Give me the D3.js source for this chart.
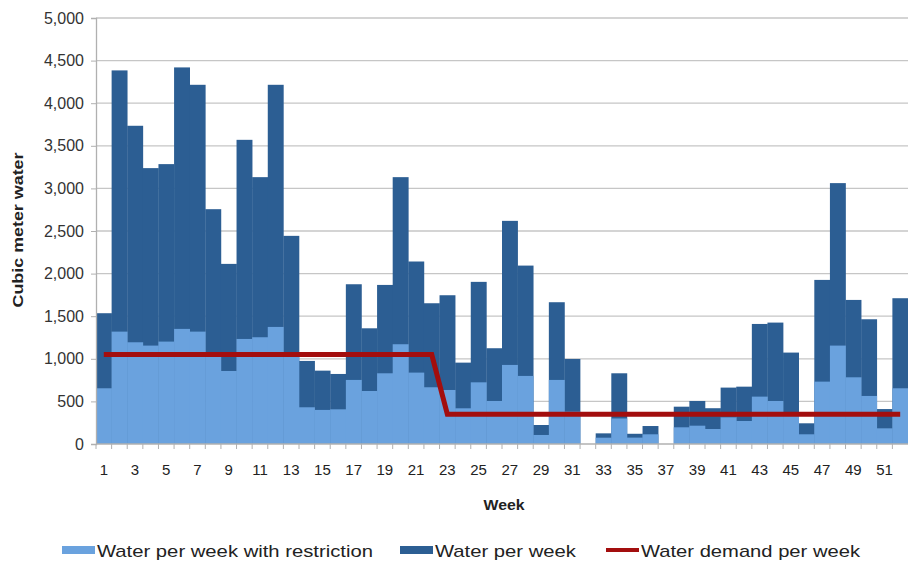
<!DOCTYPE html>
<html>
<head>
<meta charset="utf-8">
<script src="https://cdn.jsdelivr.net/npm/d3@7"></script>
<style>
  body { margin: 0; background: #fff; }
  svg { font-family: "Liberation Sans", Arial, sans-serif; }
</style>
</head>
<body>
<div id="chart-container"></div>
<script>
//Data

const weeks = d3.range(1, 53);

const waterTotal = [
  1535, 4385, 3735, 3238, 3285, 4420, 4216, 2756, 2114, 3570,
  3132, 4216, 2443, 975, 861, 822, 1875, 1358, 1867, 3132,
  2142, 1652, 1746, 955, 1903, 1124, 2619, 2094, 223, 1664,
  998, 0, 125, 830, 120, 211, 0, 438, 505, 420,
  662, 673, 1409, 1425, 1073, 243, 1926, 3062, 1691, 1464,
  410, 1711
];

const waterRestricted = [
  654, 1319, 1194, 1155, 1202, 1351, 1319, 1030, 857, 1233,
  1253, 1374, 1040, 431, 400, 407, 752, 622, 830, 1171,
  838, 666, 634, 419, 724, 505, 928, 799, 106, 752,
  380, 0, 74, 300, 75, 114, 0, 196, 215, 176,
  313, 270, 556, 505, 330, 114, 732, 1155, 783, 564,
  184, 654
];

const demand = weeks.map((w) => (w <= 22 ? 1050 : 350));

const yTicks = [0, 500, 1000, 1500, 2000, 2500, 3000, 3500, 4000, 4500, 5000];

const legendItems = [
  { label: "Water per week with restriction", color: "#6aa2de", type: "rect", x: 62, len: 276 },
  { label: "Water per week", color: "#2c5e93", type: "rect", x: 400, len: 141 },
  { label: "Water demand per week", color: "#a30e0e", type: "line", x: 606, len: 219 }
];

//Chart dimensions

const margin = { top: 18, right: 0, bottom: 118, left: 96 };
const width = 908 - margin.left - margin.right;
const height = 562 - margin.top - margin.bottom;

const xScale = d3.scaleBand().domain(weeks).range([0, width]).padding(0);
const yScale = d3.scaleLinear().domain([0, 5000]).range([height, 0]);

const root = d3.select("#chart-container")
  .append("svg")
  .attr("width", 908)
  .attr("height", 562);

const svg = root.append("g")
  .attr("transform", `translate(${margin.left},${margin.top})`);

//Horizontal gridlines

svg.selectAll(".yGrid")
  .data(yTicks.slice(1))
  .join("line")
  .attr("class", "yGrid")
  .attr("x1", 0)
  .attr("x2", width)
  .attr("y1", (d) => yScale(d))
  .attr("y2", (d) => yScale(d))
  .attr("stroke", "#c6c6c6")
  .attr("stroke-width", 1.3);

//Bars: total first, restricted on top

svg.selectAll(".barTotal")
  .data(weeks)
  .join("rect")
  .attr("class", "barTotal")
  .attr("x", (d) => xScale(d))
  .attr("width", xScale.bandwidth() + 0.3)
  .attr("y", (d, i) => yScale(waterTotal[i]))
  .attr("height", (d, i) => height - yScale(waterTotal[i]))
  .attr("fill", "#2c5e93");

svg.selectAll(".barRestr")
  .data(weeks)
  .join("rect")
  .attr("class", "barRestr")
  .attr("x", (d) => xScale(d))
  .attr("width", xScale.bandwidth() + 0.3)
  .attr("y", (d, i) => yScale(waterRestricted[i]))
  .attr("height", (d, i) => height - yScale(waterRestricted[i]))
  .attr("fill", "#6aa2de");

//Demand line

const line = d3.line()
  .x((d, i) => xScale(weeks[i]) + xScale.bandwidth() / 2)
  .y((d) => yScale(d));

svg.append("path")
  .datum(demand)
  .attr("fill", "none")
  .attr("stroke", "#a30e0e")
  .attr("stroke-width", 5)
  .attr("d", line);

//Y axis

svg.append("g")
  .call(d3.axisLeft(yScale)
    .tickValues(yTicks)
    .tickFormat(d3.format(","))
    .tickSize(5)
    .tickPadding(7))
  .call((g) => g.select(".domain").attr("stroke", "#b0b0b0").attr("stroke-width", 1.3))
  .call((g) => g.selectAll(".tick line").attr("stroke", "#b0b0b0"))
  .selectAll(".tick text")
    .style("font-size", "16px")
    .style("fill", "#333");

//X axis: ticks between bands, labels on odd weeks

const xAxis = svg.append("g")
  .attr("transform", `translate(0, ${height})`);

xAxis.append("line")
  .attr("x1", 0)
  .attr("x2", width)
  .attr("stroke", "#b0b0b0")
  .attr("stroke-width", 1.3);

xAxis.selectAll(".xTick")
  .data(weeks)
  .join("line")
  .attr("class", "xTick")
  .attr("x1", (d) => xScale(d))
  .attr("x2", (d) => xScale(d))
  .attr("y1", 0)
  .attr("y2", 5)
  .attr("stroke", "#b0b0b0");

xAxis.selectAll(".xLabel")
  .data(weeks.filter((w) => w % 2 === 1))
  .join("text")
  .attr("class", "xLabel")
  .attr("x", (d) => xScale(d) + xScale.bandwidth() / 2)
  .attr("y", 31)
  .attr("text-anchor", "middle")
  .style("font-size", "15px")
  .style("fill", "#222")
  .text((d) => d);

//Axis titles

root.append("text")
  .attr("transform", "rotate(-90)")
  .attr("x", -230)
  .attr("y", 23)
  .attr("text-anchor", "middle")
  .attr("textLength", 155)
  .attr("lengthAdjust", "spacingAndGlyphs")
  .style("font-size", "15px")
  .style("font-weight", "bold")
  .style("fill", "#222")
  .text("Cubic meter water");

root.append("text")
  .attr("x", 504)
  .attr("y", 510)
  .attr("text-anchor", "middle")
  .attr("textLength", 41)
  .attr("lengthAdjust", "spacingAndGlyphs")
  .style("font-size", "15px")
  .style("font-weight", "bold")
  .style("fill", "#222")
  .text("Week");

//Legend

const legend = root.append("g").attr("transform", "translate(0, 551)");

legendItems.forEach((item) => {
  if (item.type === "rect") {
    legend.append("rect")
      .attr("x", item.x)
      .attr("y", -5)
      .attr("width", 33)
      .attr("height", 8)
      .attr("fill", item.color);
  } else {
    legend.append("line")
      .attr("x1", item.x)
      .attr("x2", item.x + 33)
      .attr("y1", -1)
      .attr("y2", -1)
      .attr("stroke", item.color)
      .attr("stroke-width", 4);
  }
  legend.append("text")
    .attr("x", item.x + 35)
    .attr("y", 6)
    .attr("textLength", item.len)
    .attr("lengthAdjust", "spacingAndGlyphs")
    .style("font-size", "17px")
    .style("fill", "#222")
    .text(item.label);
});
</script>
</body>
</html>
